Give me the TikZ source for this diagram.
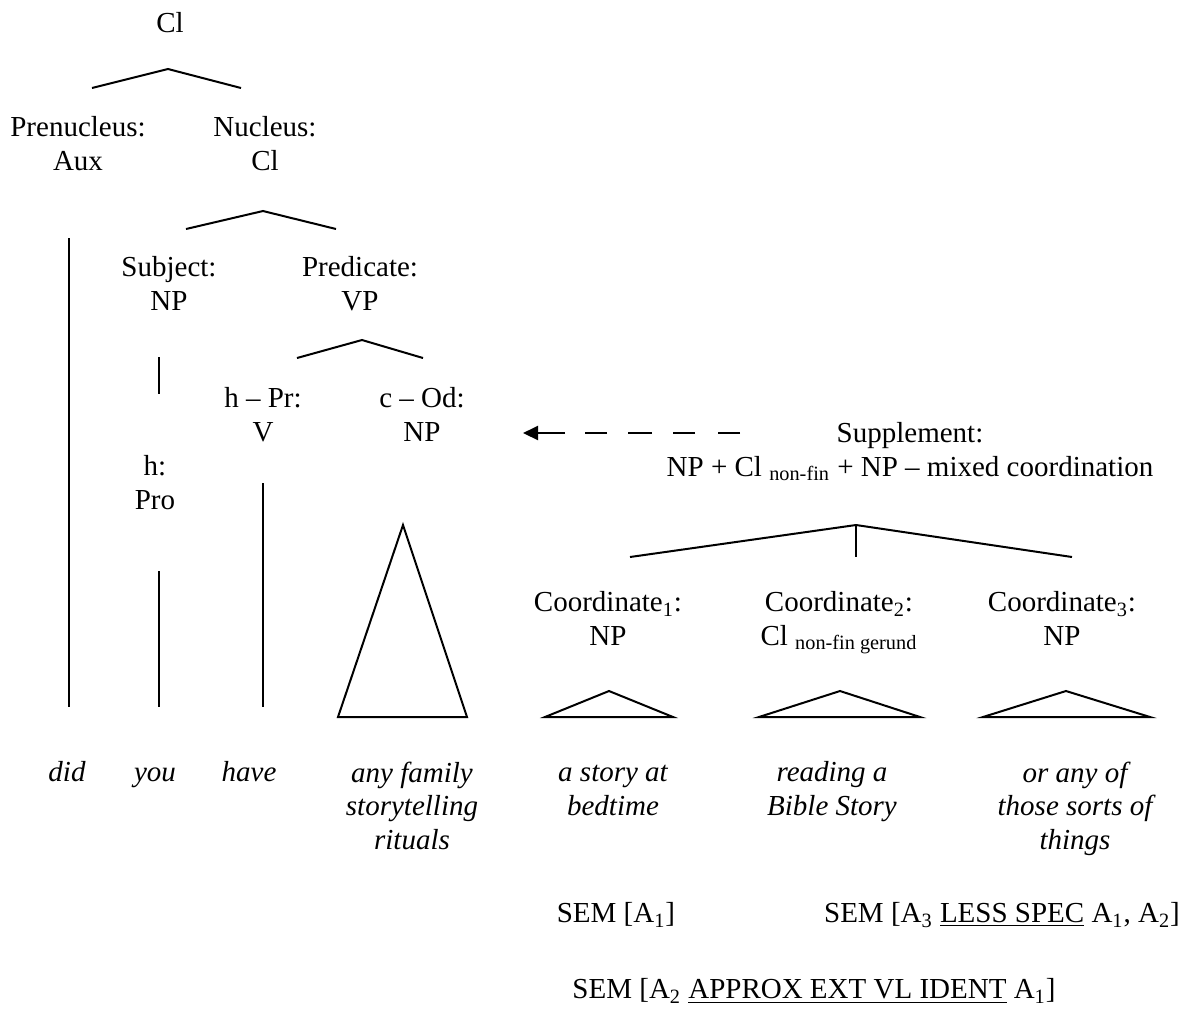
\documentclass[tikz,border=0pt]{standalone}
\usepackage{fontspec}
\setmainfont{Liberation Serif}
\usetikzlibrary{arrows.meta}
\begin{document}
\begin{tikzpicture}[x=0.5pt,y=-0.5pt,
  lbl/.style={align=center,inner sep=0pt,font=\fontsize{14.5}{16.8}\selectfont},
  word/.style={align=center,inner sep=0pt,font=\fontsize{14.5}{16.8}\selectfont\itshape},
  edge/.style={line width=1pt,line join=miter},
  supparrow/.style={line width=1pt,-{Triangle[length=7.5pt,width=7pt]},
    dash pattern=on 11pt off 11.5pt on 11pt off 10.5pt on 12pt off 10.5pt on 11pt off 10pt on 100pt}]
\useasboundingbox (0,0) rectangle (1184,1009);

% ---- labels of the clause tree
\node[lbl] (root)    at (170,26)  {\strut Cl};
\node[lbl] (prenuc)  at (78,147)  {\strut Prenucleus:\\\strut Aux};
\node[lbl] (nuc)     at (265,147) {\strut Nucleus:\\\strut Cl};
\node[lbl] (subj)    at (169,287) {\strut Subject:\\\strut NP};
\node[lbl] (pred)    at (360,287) {\strut Predicate:\\\strut VP};
\node[lbl] (headpr)  at (263,418) {\strut h – Pr:\\\strut V};
\node[lbl] (compod)  at (422,418) {\strut c – Od:\\\strut NP};
\node[lbl] (headpro) at (155,486) {\strut h:\\\strut Pro};

% ---- the supplement and its coordinates
\node[lbl] (supp)   at (910,453) {\strut Supplement:\\\strut NP + Cl \textsubscript{non-fin} + NP – mixed coordination};
\node[lbl] (coordA) at (608,622)  {\strut Coordinate\textsubscript{1}:\\\strut NP};
\node[lbl] (coordB) at (839,622)  {\strut Coordinate\textsubscript{2}:\\\strut Cl \textsubscript{non-fin gerund}};
\node[lbl] (coordC) at (1062,622) {\strut Coordinate\textsubscript{3}:\\\strut NP};

% ---- words of the sentence
\node[word] (wdid)   at (67,775)   {\strut did};
\node[word] (wyou)   at (155,775)  {\strut you};
\node[word] (whave)  at (249,775)  {\strut have};
\node[word] (wany)   at (412,809)  {\strut any family\\\strut storytelling\\\strut rituals};
\node[word] (wstory) at (613,792)  {\strut a story at\\\strut bedtime};
\node[word] (wread)  at (832,792)  {\strut reading a\\\strut Bible Story};
\node[word] (wsorts) at (1075,809) {\strut or any of\\\strut those sorts of\\\strut things};

% ---- semantic annotations
\node[lbl] (semA) at (616,916)  {\strut SEM [A\textsubscript{1}]};
\node[lbl] (semC) at (1002,916) {\strut SEM [A\textsubscript{3} \underline{LESS SPEC} A\textsubscript{1}, A\textsubscript{2}]};
\node[lbl] (semB) at (814,992)  {\strut SEM [A\textsubscript{2} \underline{APPROX EXT VL IDENT} A\textsubscript{1}]};

% ---- branch points
\coordinate (rootTop) at (168,69);  \coordinate (rootL) at (92,88);  \coordinate (rootR) at (241,88);
\coordinate (nucTop)  at (263,211); \coordinate (nucL)  at (186,229); \coordinate (nucR)  at (336,229);
\coordinate (predTop) at (362,340); \coordinate (predL) at (297,358); \coordinate (predR) at (423,358);
\coordinate (suppTop) at (856,525); \coordinate (suppL) at (630,557); \coordinate (suppM) at (856,557);
\coordinate (suppR) at (1072,557);

\coordinate (auxTop) at (69,238);   \coordinate (auxBot) at (69,707);
\coordinate (npTop)  at (159,357);  \coordinate (npBot)  at (159,394);
\coordinate (proTop) at (159,571);  \coordinate (proBot) at (159,707);
\coordinate (vTop)   at (263,483);  \coordinate (vBot)   at (263,707);

\coordinate (odApex) at (403,525); \coordinate (odL) at (338,717); \coordinate (odR) at (467,717);
\coordinate (caApex) at (609,691); \coordinate (caL) at (545,717); \coordinate (caR) at (673,717);
\coordinate (cbApex) at (840,691); \coordinate (cbL) at (759,717); \coordinate (cbR) at (920,717);
\coordinate (ccApex) at (1066,691); \coordinate (ccL) at (983,717); \coordinate (ccR) at (1150,717);

\coordinate (arrTail) at (740,433); \coordinate (arrTip) at (523,433);

% ---- branches
\draw[edge] (rootL) -- (rootTop) -- (rootR);
\draw[edge] (nucL) -- (nucTop) -- (nucR);
\draw[edge] (predL) -- (predTop) -- (predR);
\draw[edge] (suppL) -- (suppTop) -- (suppR);
\draw[edge] (suppTop) -- (suppM);

% ---- unary lines down to the words
\draw[edge] (auxTop) -- (auxBot);
\draw[edge] (npTop) -- (npBot);
\draw[edge] (proTop) -- (proBot);
\draw[edge] (vTop) -- (vBot);

% ---- roofs over unanalysed phrases
\draw[edge] (odApex) -- (odL) -- (odR) -- cycle;
\draw[edge] (caApex) -- (caL) -- (caR) -- cycle;
\draw[edge] (cbApex) -- (cbL) -- (cbR) -- cycle;
\draw[edge] (ccApex) -- (ccL) -- (ccR) -- cycle;

% ---- supplement anchored to the object NP
\draw[supparrow] (arrTail) -- (arrTip);
\end{tikzpicture}
\end{document}
